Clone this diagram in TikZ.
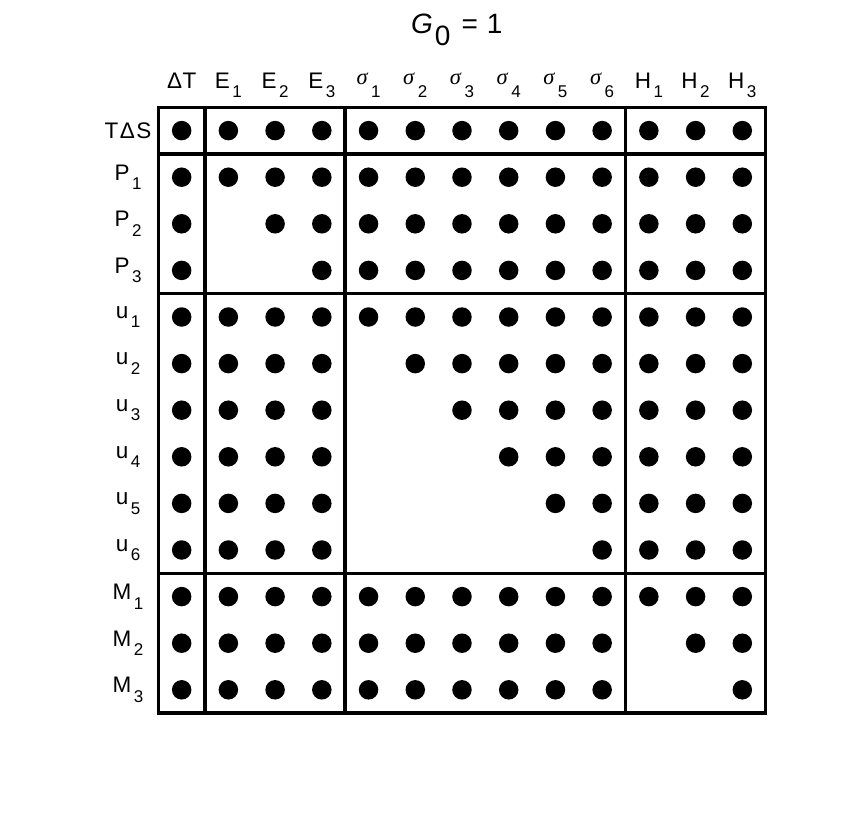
\documentclass[tikz,border=0pt]{standalone}
\usepackage{fontspec}
\setmainfont{Liberation Sans}
\newfontfamily\sigfont{Liberation Serif}
\newcommand\lab[2]{#1\kern2.5pt\raisebox{-9.5pt}{\fontsize{17}{17}\selectfont #2}}
\newcommand\sig[1]{\raisebox{3.5pt}{\sigfont\itshape σ}\kern3.5pt\raisebox{-9.5pt}{\fontsize{17}{17}\selectfont #1}}
\tikzset{
  dot/.style={circle,fill=black,draw=none,inner sep=0pt,minimum size=19.5pt},
  gridline/.style={line width=3.5pt,line cap=rect},
  collab/.style={anchor=base,inner sep=0pt,font=\fontsize{22.5}{26}\selectfont},
  rowlab/.style={anchor=center,inner sep=0pt,font=\fontsize{22.5}{26}\selectfont},
  titlelab/.style={anchor=base west,inner sep=0pt,font=\fontsize{28}{32}\selectfont}
}
\begin{document}
\begin{tikzpicture}[x=1pt,y=-1pt]
\useasboundingbox (0,0) rectangle (856,812);
\def\xo{158.3}\def\cw{46.72}\def\yo{107.3}\def\rh{46.6}
% title
\node[titlelab] (title) at (411,33.3) {\textit{G}\kern2pt\raisebox{-11.7pt}{0}\kern11pt=\kern9pt1};
% grid
\coordinate (tl) at (\xo,\yo);
\coordinate (br) at (\xo+13*\cw,\yo+13*\rh);
\draw[gridline] (tl) rectangle (br);
\foreach \k in {1,4,10}{
  \draw[gridline] (\xo+\k*\cw,\yo) -- (\xo+\k*\cw,\yo+13*\rh);
  \draw[gridline] (\xo,\yo+\k*\rh) -- (\xo+13*\cw,\yo+\k*\rh);
}
% column labels
\foreach \t [count=\j from 0] in {Δ\kern0.5pt T,\lab{E}{1},\lab{E}{2},\lab{E}{3},\sig{1},\sig{2},\sig{3},\sig{4},\sig{5},\sig{6},\lab{H}{1},\lab{H}{2},\lab{H}{3}}{
  \node[collab] (col\j) at (\xo+\j*\cw+0.5*\cw,88.3) {\t};
}
% row labels
\foreach \t [count=\i from 0] in {T\kern1.5ptΔ\kern1.5ptS,\lab{P}{1},\lab{P}{2},\lab{P}{3},\lab{u}{1},\lab{u}{2},\lab{u}{3},\lab{u}{4},\lab{u}{5},\lab{u}{6},\lab{M}{1},\lab{M}{2},\lab{M}{3}}{
  \node[rowlab] (row\i) at (128,\yo+\i*\rh+0.5*\rh) {\t};
}
% dots
\foreach \i in {0,...,12}{
  \foreach \j in {0,...,12}{
    \pgfmathtruncatemacro\bi{(\i>0)+(\i>3)+(\i>9)}
    \pgfmathtruncatemacro\bj{(\j>0)+(\j>3)+(\j>9)}
    \pgfmathtruncatemacro\noDot{(\bi==\bj)*(\j<\i)}
    \ifnum\noDot=0
      \node[dot] (d\i-\j) at (\xo+\j*\cw+0.5*\cw,\yo+\i*\rh+0.5*\rh) {};
    \fi
  }
}
\end{tikzpicture}
\end{document}
